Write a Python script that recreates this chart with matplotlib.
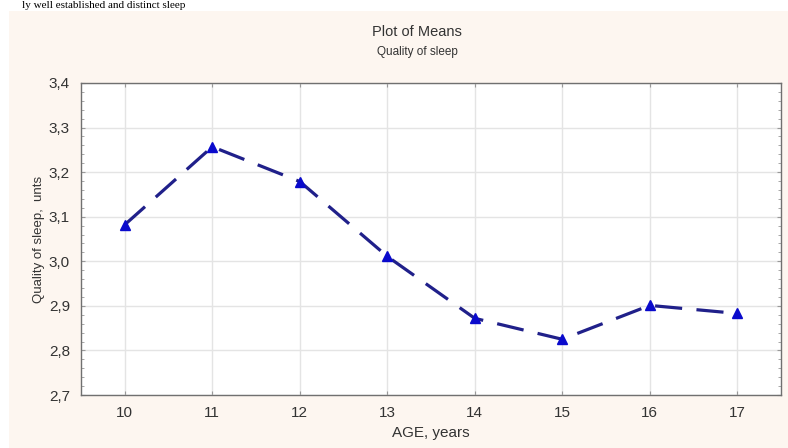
import matplotlib.pyplot as plt
from matplotlib.patches import Rectangle
from matplotlib.ticker import MultipleLocator, FuncFormatter

ages = [10, 11, 12, 13, 14, 15, 16, 17]
sleep_means = [3.082, 3.257, 3.179, 3.011, 2.872, 2.825, 2.901, 2.883]

plt.rcParams['font.family'] = ['Liberation Sans', 'DejaVu Sans']

W, H = 788, 448
fig = plt.figure(figsize=(W / 100, H / 100), dpi=100, facecolor='white')

# beige panel of the exported chart, page text above it
fig.patches.append(Rectangle((9 / W, 0), 1 - 9 / W, 1 - 11 / H,
                             transform=fig.transFigure, facecolor='#fdf6f0',
                             edgecolor='none', zorder=-1))
fig.text(22 / W, 1 - 0.5 / H, 'ly well established and distinct sleep',
         family='Liberation Serif', fontsize=8, color='black',
         ha='left', va='top')

ax = fig.add_axes([81 / W, 1 - 395 / H, 700 / W, 312 / H])
ax.set_facecolor('white')

ax.plot(ages, sleep_means, color='#20208a', linestyle=(0, (8.5, 4.5)),
        linewidth=2.3, marker='^', markersize=7, markerfacecolor='#0a0acc',
        markeredgecolor='#0a0acc', zorder=3)

ax.set_xlim(9.5, 17.5)
ax.set_ylim(2.7, 3.4)
ax.set_xticks(ages)
ax.yaxis.set_major_locator(MultipleLocator(0.1))
ax.yaxis.set_minor_locator(MultipleLocator(0.02))
ax.yaxis.set_major_formatter(FuncFormatter(lambda v, p: f'{v:.1f}'.replace('.', ',')))
ax.grid(True, which='major', color='#e4e4e4', linewidth=1.0)

for s in ax.spines.values():
    s.set_color('#707070')
    s.set_linewidth(1.0)

ax.tick_params(axis='both', which='both', direction='in', colors='#999999',
               labelcolor='#333333', labelsize=11, right=True, top=True)
ax.tick_params(axis='both', which='major', length=3, pad=8)
ax.tick_params(axis='y', which='minor', length=2)

ax.set_xlabel('AGE, years', fontsize=11, color='#333333', labelpad=4)
ax.set_ylabel('Quality of sleep,  unts', fontsize=9.5, color='#333333', labelpad=3)

fig.text(417 / W, 1 - 32 / H, 'Plot of Means', fontsize=10.5, color='#333333',
         ha='center', va='center')
fig.text(417 / W, 1 - 52 / H, 'Quality of sleep', fontsize=8.5, color='#333333',
         ha='center', va='center')

fig.savefig('out.png', dpi=100, facecolor=fig.get_facecolor())
